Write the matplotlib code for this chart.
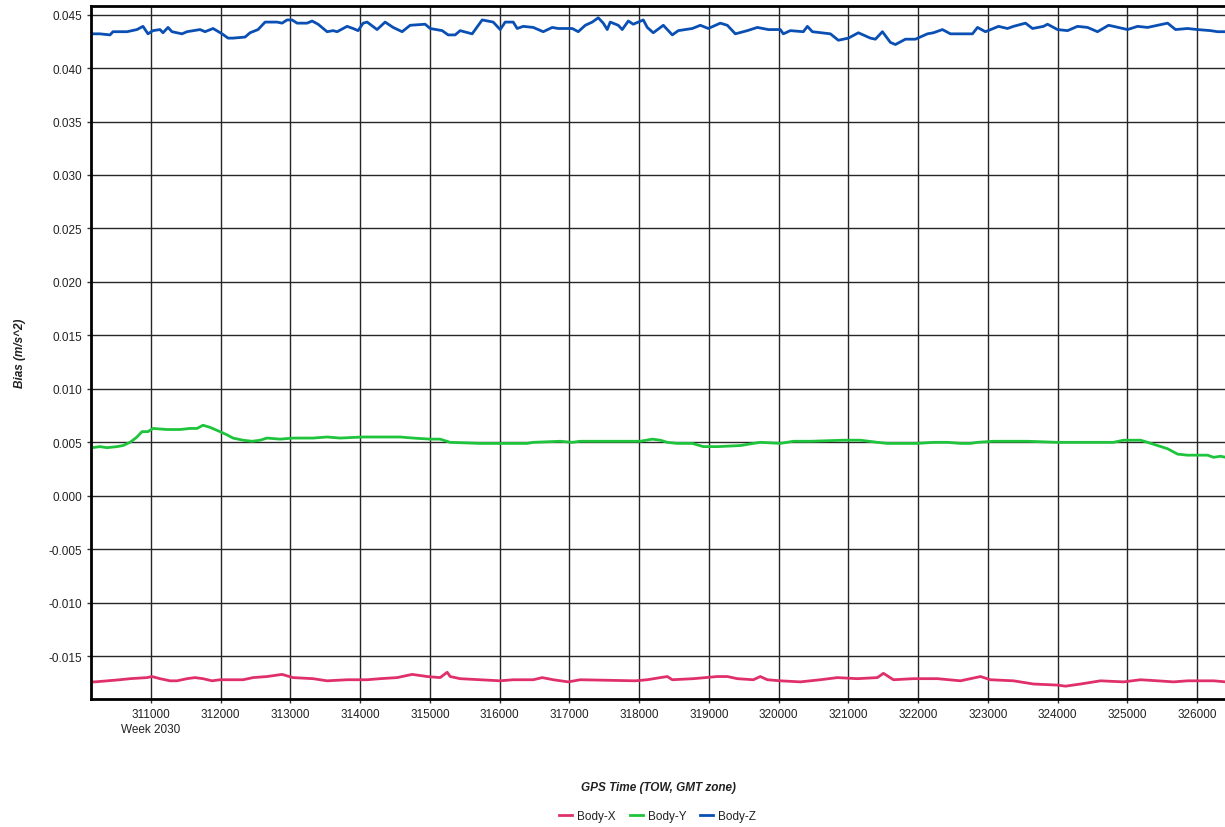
import matplotlib
matplotlib.use('Agg')
import matplotlib.pyplot as plt
from matplotlib.ticker import FormatStrFormatter, MultipleLocator, FixedLocator

plt.rcParams['font.family'] = ['Liberation Sans', 'DejaVu Sans']

# GPS time of week (s) and bias (m/s^2)
tow_x = [310154, 310197, 310555, 310699, 310943, 311014, 311129, 311273, 311373, 311516,
         311631, 311746, 311875, 311990, 312320, 312463, 312664, 312879, 313037, 313324,
         313525, 313812, 314099, 314285, 314529, 314745, 314960, 315146, 315247, 315290,
         315433, 315720, 316007, 316194, 316481, 316610, 316768, 316983, 317155, 317944,
         318116, 318303, 318403, 318475, 318776, 319121, 319264, 319407, 319637, 319737,
         319838, 320024, 320311, 320598, 320842, 321129, 321416, 321502, 321646, 321933,
         322277, 322607, 322750, 322894, 323037, 323367, 323654, 323998, 324113, 324328,
         324615, 324945, 325189, 325433, 325663, 325863, 326237, 326409]
body_x = [-0.0174, -0.0174, -0.0172, -0.0171, -0.0170, -0.0169, -0.0171, -0.0173, -0.0173, -0.0171,
          -0.0170, -0.0171, -0.0173, -0.0172, -0.0172, -0.0170, -0.0169, -0.0167, -0.0170, -0.0171,
          -0.0173, -0.0172, -0.0172, -0.0171, -0.0170, -0.0167, -0.0169, -0.0170, -0.0165, -0.0169,
          -0.0171, -0.0172, -0.0173, -0.0172, -0.0172, -0.0170, -0.0172, -0.0174, -0.0172, -0.0173,
          -0.0172, -0.0170, -0.0169, -0.0172, -0.0171, -0.0169, -0.0169, -0.0171, -0.0172, -0.0169,
          -0.0172, -0.0173, -0.0174, -0.0172, -0.0170, -0.0171, -0.0170, -0.0166, -0.0172, -0.0171,
          -0.0171, -0.0173, -0.0171, -0.0169, -0.0172, -0.0173, -0.0176, -0.0177, -0.0178, -0.0176,
          -0.0173, -0.0174, -0.0172, -0.0173, -0.0174, -0.0173, -0.0173, -0.0174]

tow_y = [310154, 310268, 310369, 310512, 310598, 310699, 310799, 310871, 310957, 311029,
         311230, 311416, 311560, 311660, 311746, 311846, 311990, 312090, 312176, 312320,
         312449, 312564, 312664, 312851, 313037, 313324, 313525, 313712, 314042, 314429,
         314573, 314759, 315003, 315146, 315290, 315720, 316007, 316394, 316481, 316868,
         317040, 317155, 318016, 318188, 318303, 318403, 318547, 318762, 318920, 319121,
         319451, 319637, 319737, 320024, 320211, 320455, 320928, 321172, 321416, 321559,
         321990, 322219, 322420, 322607, 322750, 322851, 323080, 323568, 323998, 324802,
         324945, 325189, 325290, 325433, 325577, 325720, 325863, 326150, 326237, 326337,
         326409]
body_y = [0.0045, 0.0046, 0.0045, 0.0046, 0.0047, 0.0050, 0.0055, 0.0060, 0.0060, 0.0063,
          0.0062, 0.0062, 0.0063, 0.0063, 0.0066, 0.0064, 0.0060, 0.0057, 0.0054, 0.0052,
          0.0051, 0.0052, 0.0054, 0.0053, 0.0054, 0.0054, 0.0055, 0.0054, 0.0055, 0.0055,
          0.0055, 0.0054, 0.0053, 0.0053, 0.0050, 0.0049, 0.0049, 0.0049, 0.0050, 0.0051,
          0.0050, 0.0051, 0.0051, 0.0053, 0.0052, 0.0050, 0.0049, 0.0049, 0.0046, 0.0046,
          0.0047, 0.0049, 0.0050, 0.0049, 0.0051, 0.0051, 0.0052, 0.0052, 0.0050, 0.0049,
          0.0049, 0.0050, 0.0050, 0.0049, 0.0049, 0.0050, 0.0051, 0.0051, 0.0050, 0.0050,
          0.0052, 0.0052, 0.0050, 0.0047, 0.0044, 0.0039, 0.0038, 0.0038, 0.0036, 0.0037,
          0.0036]

tow_z = [310154, 310268, 310412, 310455, 310656, 310799, 310885, 310957, 311029, 311129,
         311172, 311244, 311301, 311445, 311516, 311703, 311775, 311890, 312019, 312105,
         312176, 312349, 312420, 312535, 312636, 312808, 312879, 312951, 313023, 313095,
         313238, 313310, 313396, 313525, 313611, 313669, 313812, 313898, 313970, 314042,
         314099, 314242, 314357, 314472, 314601, 314716, 314931, 315003, 315175, 315261,
         315361, 315433, 315605, 315749, 315907, 316007, 316079, 316194, 316251, 316337,
         316481, 316624, 316753, 316839, 317040, 317126, 317227, 317327, 317413, 317485,
         317542, 317585, 317700, 317757, 317844, 317915, 318059, 318116, 318202, 318346,
         318475, 318561, 318762, 318877, 318991, 319163, 319264, 319379, 319551, 319694,
         319852, 320024, 320067, 320168, 320354, 320412, 320483, 320742, 320856, 321000,
         321143, 321315, 321387, 321488, 321602, 321674, 321818, 321961, 322133, 322219,
         322348, 322463, 322635, 322779, 322851, 322965, 323152, 323281, 323367, 323539,
         323640, 323798, 323855, 323998, 324142, 324285, 324429, 324572, 324730, 324802,
         325003, 325146, 325290, 325577, 325691, 325863, 326007, 326193, 326294, 326380]
body_z = [0.0432, 0.0432, 0.0431, 0.0434, 0.0434, 0.0436, 0.0439, 0.0432, 0.0435, 0.0436,
          0.0433, 0.0438, 0.0434, 0.0432, 0.0434, 0.0436, 0.0434, 0.0437, 0.0432, 0.0428,
          0.0428, 0.0429, 0.0433, 0.0436, 0.0443, 0.0443, 0.0442, 0.0445, 0.0445, 0.0442,
          0.0442, 0.0444, 0.0441, 0.0434, 0.0435, 0.0434, 0.0439, 0.0437, 0.0435, 0.0442,
          0.0443, 0.0436, 0.0443, 0.0438, 0.0434, 0.0440, 0.0441, 0.0437, 0.0435, 0.0431,
          0.0431, 0.0435, 0.0432, 0.0445, 0.0443, 0.0436, 0.0443, 0.0443, 0.0437, 0.0439,
          0.0438, 0.0434, 0.0438, 0.0437, 0.0437, 0.0434, 0.0440, 0.0443, 0.0447, 0.0442,
          0.0436, 0.0443, 0.0440, 0.0436, 0.0444, 0.0441, 0.0445, 0.0438, 0.0433, 0.0440,
          0.0431, 0.0435, 0.0437, 0.0440, 0.0437, 0.0442, 0.0440, 0.0432, 0.0435, 0.0438,
          0.0436, 0.0436, 0.0432, 0.0435, 0.0434, 0.0439, 0.0434, 0.0432, 0.0426, 0.0428,
          0.0433, 0.0428, 0.0427, 0.0434, 0.0424, 0.0422, 0.0427, 0.0427, 0.0432, 0.0433,
          0.0436, 0.0432, 0.0432, 0.0432, 0.0438, 0.0434, 0.0439, 0.0437, 0.0439, 0.0442,
          0.0437, 0.0439, 0.0441, 0.0436, 0.0435, 0.0439, 0.0438, 0.0434, 0.0440, 0.0439,
          0.0436, 0.0439, 0.0438, 0.0442, 0.0436, 0.0437, 0.0436, 0.0435, 0.0434, 0.0434]

series_names = ['Body-X', 'Body-Y', 'Body-Z']
series_colors = ['#e0306a', '#1ec43c', '#0a4fb4']

x_ticks = list(range(311000, 326001, 1000))
x_tick_labels = [str(t) for t in x_ticks]
x_tick_labels[0] = '311000\nWeek 2030'


def style_axes(ax):
    # grid, spines and tick formats
    ax.set_xlim(310140, 326400)
    ax.set_ylim(-0.0190, 0.0458)
    ax.xaxis.set_major_locator(FixedLocator(x_ticks))
    ax.set_xticklabels(x_tick_labels, linespacing=1.35, va='top')
    ax.yaxis.set_major_locator(MultipleLocator(0.005))
    ax.yaxis.set_major_formatter(FormatStrFormatter('%.3f'))
    ax.grid(True, color='#262626', linewidth=1.0)
    ax.set_axisbelow(True)
    for side in ['left', 'bottom', 'top']:
        ax.spines[side].set_linewidth(2.0)
        ax.spines[side].set_color('black')
    ax.spines['right'].set_visible(False)
    ax.tick_params(axis='both', labelsize=8.5, labelcolor='#222222', length=3, width=1, color='#333333')
    ax.set_xlabel('GPS Time (TOW, GMT zone)', fontsize=8.5, fontweight='bold', fontstyle='italic',
                  color='#222222')
    ax.set_ylabel('Bias (m/s^2)', fontsize=8.5, fontweight='bold', fontstyle='italic',
                  color='#222222')
    # label positions in axes coords (axes box is 1134 x 693 px)
    ax.xaxis.set_label_coords(0.5, -0.119)
    ax.yaxis.set_label_coords(-0.057, 0.5)


fig = plt.figure(figsize=(12.25, 8.28), dpi=100)
ax = fig.add_axes([0.0743, 0.1546, 0.9257, 0.8369])

ax.plot(tow_x, body_x, color=series_colors[0], linewidth=2.0, label=series_names[0])
ax.plot(tow_y, body_y, color=series_colors[1], linewidth=2.0, label=series_names[1])
ax.plot(tow_z, body_z, color=series_colors[2], linewidth=2.0, label=series_names[2])

style_axes(ax)

fig.legend(loc='lower center', bbox_to_anchor=(0.537, -0.007), ncol=3, frameon=False,
           fontsize=8.5, handlelength=1.1, handletextpad=0.4, columnspacing=1.2,
           labelcolor='#222222')

fig.savefig('out.png', dpi=100)
